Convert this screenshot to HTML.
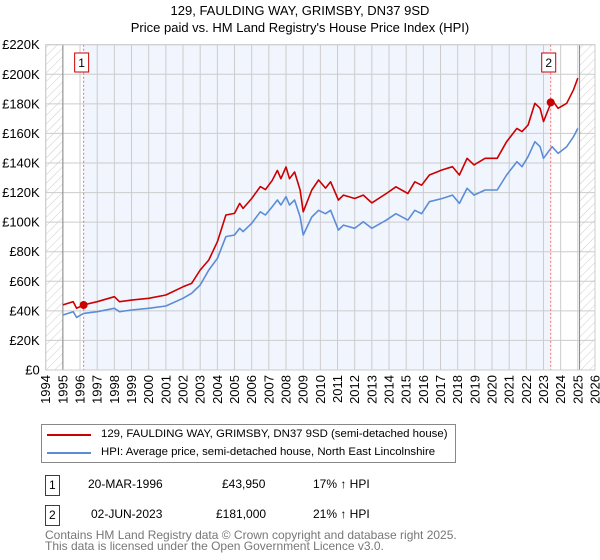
<!DOCTYPE html>
<html><head><meta charset="utf-8"><style>
body{margin:0;background:#fff;font-family:"Liberation Sans","DejaVu Sans",sans-serif;}
#wrap{position:relative;width:600px;height:560px;overflow:hidden;}
.t{position:absolute;font-size:12px;color:#000;white-space:nowrap;}
.lg{font-size:11.4px;}
</style></head><body><div id="wrap">
<svg id="chart" width="600" height="420" style="position:absolute;left:0;top:0" font-family="Liberation Sans, DejaVu Sans, sans-serif">
<defs><pattern id="hatch" width="6" height="6" patternUnits="userSpaceOnUse" patternTransform="rotate(45)"><line x1="0" y1="0" x2="0" y2="6" stroke="#ccc" stroke-width="1"/></pattern></defs>
<text x="300" y="15" text-anchor="middle" font-size="13">129, FAULDING WAY, GRIMSBY, DN37 9SD</text>
<text x="300" y="32" text-anchor="middle" font-size="13">Price paid vs. HM Land Registry's House Price Index (HPI)</text>
<g id="layer"></g>
</svg>
<div style="position:absolute;left:41px;top:424px;width:413px;height:37px;border:1px solid #888;">
<div style="position:absolute;left:5px;top:9px;width:44px;height:2px;background:#cc0000"></div>
<div class="t lg" style="left:59px;top:3px">129, FAULDING WAY, GRIMSBY, DN37 9SD (semi-detached house)</div>
<div style="position:absolute;left:5px;top:27px;width:44px;height:2px;background:#5b8dd6"></div>
<div class="t lg" style="left:59px;top:21px">HPI: Average price, semi-detached house, North East Lincolnshire</div>
</div>
<div style="position:absolute;left:45px;top:475px;width:13px;height:19px;border:1px solid #cc0000;"><div class="t" style="left:3px;top:2px">1</div></div>
<div class="t" style="left:88px;top:477px">20-MAR-1996</div>
<div class="t" style="left:222px;top:477px">£43,950</div>
<div class="t" style="left:313px;top:477px">17% ↑ HPI</div>
<div style="position:absolute;left:45px;top:505px;width:13px;height:19px;border:1px solid #cc0000;"><div class="t" style="left:3px;top:2px">2</div></div>
<div class="t" style="left:91px;top:507px">02-JUN-2023</div>
<div class="t" style="left:216px;top:507px">£181,000</div>
<div class="t" style="left:313px;top:507px">21% ↑ HPI</div>
<div class="t" style="left:45px;top:530px;color:#777;line-height:11px">Contains HM Land Registry data © Crown copyright and database right 2025.<br>This data is licensed under the Open Government Licence v3.0.</div>
</div>
<script>
const years=[1995,1995.6,1995.8,1996.2,1997,1998,1998.3,1999,2000,2001,2002,2002.5,2003,2003.5,2004,2004.5,2005,2005.3,2005.5,2006,2006.5,2006.8,2007.2,2007.5,2007.7,2008,2008.2,2008.5,2008.82,2009,2009.5,2009.9,2010.3,2010.6,2011.05,2011.35,2012,2012.5,2013,2013.85,2014.4,2015.1,2015.5,2015.9,2016.35,2017.1,2017.7,2018.1,2018.55,2018.95,2019.6,2020.3,2020.85,2021.45,2021.75,2022.1,2022.5,2022.8,2023,2023.5,2023.85,2024.35,2024.75,2025];
const hpiValues=[37.2,39.4,35.6,38.3,39.4,41.7,39.4,40.6,41.7,43.3,48.5,51.9,57.5,67.6,75.5,90.2,91.3,95.8,93.6,99.2,107,104.8,110.5,115,111.6,117.2,111.6,115,103.7,91.3,103.5,108,105.7,108,94.7,98,95.8,100.3,95.8,101.4,105.7,101.4,108,105.7,113.8,116,118.3,112.7,122.9,118.3,121.7,121.7,131.9,140.9,137.5,144.3,154.4,151,143.2,151,146.5,151,157.8,163.4];
const priceValues=[44,46.2,41.7,44,46.2,49.6,46.2,47.3,48.5,50.7,56.3,58.6,67.6,74.4,86.8,104.8,105.9,112.7,109.3,116,124,122,128.3,135,129.4,137.3,129.4,133.9,121.7,107,121.7,128.5,123,127.3,115,118.3,116,118.3,113,119.4,123.9,119.4,127.3,125,131.9,135.3,137.5,131.9,143.2,138.7,143.2,143.2,154.4,163.4,161.2,165.7,180.4,177,168,182.6,177,180.4,189.5,197.4];
const saleYears=[1996.21,2023.42];
const salePrices=[43950,181000];
const saleLabels=["1","2"];
const yTicks=[0,20,40,60,80,100,120,140,160,180,200,220];
const yTickLabels=["£0","£20K","£40K","£60K","£80K","£100K","£120K","£140K","£160K","£180K","£200K","£220K"];
const xTicks=[1994,1995,1996,1997,1998,1999,2000,2001,2002,2003,2004,2005,2006,2007,2008,2009,2010,2011,2012,2013,2014,2015,2016,2017,2018,2019,2020,2021,2022,2023,2024,2025,2026];

const L=45.7,R=595,T=44.7,B=370,X0=1994,X1=2026,YMAX=220;
function x(yr){return L+(yr-X0)/(X1-X0)*(R-L);}
function y(k){return B-k/YMAX*(B-T);}
const NS="http://www.w3.org/2000/svg";
const g=document.getElementById('layer');
function mk(tag,attrs,parent){const e=document.createElementNS(NS,tag);for(const k in attrs)e.setAttribute(k,attrs[k]);(parent||g).appendChild(e);return e;}
let e;
e=mk('rect',{x:L,y:T,width:R-L,height:B-T,fill:'#fff'});


e=mk('rect',{x:x(saleYears[0]),y:T,width:x(saleYears[1])-x(saleYears[0]),height:B-T,fill:'#f1f5fe'});


e=mk('rect',{x:L,y:T,width:x(1995)-L,height:B-T,fill:'url(#hatch)'});


e=mk('rect',{x:x(2025.1),y:T,width:R-x(2025.1),height:B-T,fill:'url(#hatch)'});


yTicks.forEach((v,i)=>{
  e=mk('line',{x1:L,x2:R,y1:y(v),y2:y(v),stroke:'#ccc','stroke-width':1});
  
  
  e=mk('text',{x:L-6,y:y(v)+4.5,'text-anchor':'end','font-size':13});
  e.textContent=yTickLabels[i];
  
  
});
xTicks.forEach(v=>{
  e=mk('line',{x1:x(v),x2:x(v),y1:T,y2:B,stroke:'#ccc','stroke-width':1});
  
  
  e=mk('text',{x:0,y:0,'text-anchor':'end','font-size':13,transform:'translate('+(x(v)+4.5)+','+(B+5)+') rotate(-90)'});
  e.textContent=String(v);
  
  
});
e=mk('line',{x1:x(1995),x2:x(1995),y1:T,y2:B,stroke:'#888','stroke-width':1});


e=mk('line',{x1:x(2025.1),x2:x(2025.1),y1:T,y2:B,stroke:'#888','stroke-width':1});


function path(vals){return vals.map((v,i)=>(i?'L':'M')+x(years[i]).toFixed(1)+','+y(v).toFixed(1)).join('');}
e=mk('path',{d:path(hpiValues),fill:'none',stroke:'#5b8dd6','stroke-width':1.6,'stroke-linejoin':'round'});


e=mk('path',{d:path(priceValues),fill:'none',stroke:'#cc0000','stroke-width':1.6,'stroke-linejoin':'round'});


saleYears.forEach((s,i)=>{
  e=mk('line',{x1:x(s),x2:x(s),y1:T,y2:B,stroke:'#ff6666','stroke-width':1,'stroke-dasharray':'2,2'});
  
  
  e=mk('circle',{cx:x(s),cy:y(salePrices[i]/1000),r:4,fill:'#cc0000'});
  
  
  e=mk('rect',{x:x(s)-9,y:53,width:14,height:19,fill:'#fff',stroke:'#cc0000','stroke-width':1});
  
  
  e=mk('text',{x:x(s)-2,y:67,'text-anchor':'middle','font-size':12});
  e.textContent=saleLabels[i];
  
  
});
e=mk('rect',{x:L,y:T,width:R-L,height:B-T,fill:'none',stroke:'#ccc','stroke-width':1});


</script>
</body></html>
